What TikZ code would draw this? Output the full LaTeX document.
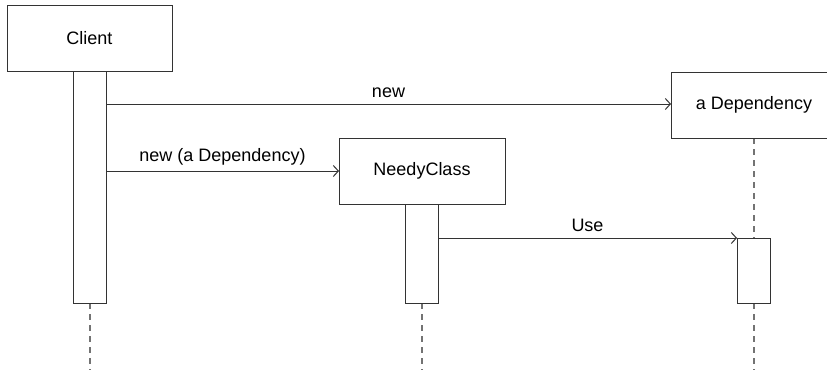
\documentclass[tikz,border=0pt]{standalone}
\usepackage{fontspec}
\setmainfont{Liberation Sans}
\usetikzlibrary{arrows.meta}
\begin{document}
\begin{tikzpicture}[x=1pt,y=-1pt,
  obj/.style={draw=black!80, line width=1pt, fill=white},
  act/.style={draw=black!80, line width=1pt, fill=white},
  life/.style={draw=black!55, line width=1.3pt, dash pattern=on 6pt off 5pt},
  msg/.style={draw=black!80, line width=1pt, -{Straight Barb[length=5pt,width=11pt]}},
  lbl/.style={font=\fontsize{18}{20}\selectfont, text=black}]
\useasboundingbox (0,0) rectangle (827,370);
\begin{scope}
\clip (0,0) rectangle (827,370);
% lifelines
\coordinate (cl0) at (90,303); \coordinate (cl1) at (90,370);
\coordinate (nl0) at (422,303); \coordinate (nl1) at (422,370);
\coordinate (dl0) at (754,138); \coordinate (dl1) at (754,370);
\draw[life] (dl0) -- (dl1);
\draw[life] (cl0) -- (cl1);
\draw[life] (nl0) -- (nl1);
% objects
\draw[obj] (7,5) rectangle (172,71);
\node[lbl] (client) at (89.5,38) {Client};
\draw[obj] (671,72) rectangle (837,138);
\node[lbl] (dep) at (754,105) {a Dependency};
\draw[obj] (339,138) rectangle (505,204);
\node[lbl] (needy) at (422,171) {NeedyClass};
% activations
\draw[act] (73,71) rectangle (106,303);
\draw[act] (405,204) rectangle (438,303);
\draw[act] (737,238) rectangle (770,303);
% messages
\coordinate (c1) at (106,104); \coordinate (d1) at (671,104);
\coordinate (c2) at (106,171); \coordinate (n2) at (339,171);
\coordinate (n3) at (438,238); \coordinate (d3) at (737,238);
\draw[msg] (c1) -- node[lbl, above=2pt] (l1) {new} (d1);
\draw[msg] (c2) -- node[lbl, above=2pt] (l2) {new (a Dependency)} (n2);
\draw[msg] (n3) -- node[lbl, above=2pt] (l3) {Use} (d3);
\end{scope}
\end{tikzpicture}
\end{document}
